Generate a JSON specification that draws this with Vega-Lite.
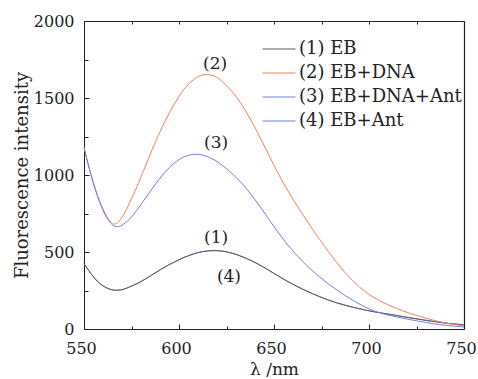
{
  "$schema": "https://vega.github.io/schema/vega-lite/v6.json",
  "width": 380,
  "height": 308,
  "autosize": "none",
  "padding": {"left": 84, "top": 21, "right": 14, "bottom": 50},
  "background": "white",
  "config": {
    "view": {"stroke": null},
    "font": "DejaVu Serif",
    "axis": {"labelFont": "DejaVu Serif", "titleFont": "DejaVu Serif", "labelColor": "#222", "titleColor": "#222", "tickColor": "#222", "domainColor": "#222", "domain": false, "grid": false, "titleFontWeight": "normal", "labelFontSize": 16, "titleFontSize": 18}
  },
  "datasets": {
    "curves": [
      {"series": "(1) EB", "wl": 550, "v": 425}, {"series": "(1) EB", "wl": 552, "v": 388}, {"series": "(1) EB", "wl": 554, "v": 354}, {"series": "(1) EB", "wl": 556, "v": 324}, {"series": "(1) EB", "wl": 558, "v": 299}, {"series": "(1) EB", "wl": 560, "v": 280}, {"series": "(1) EB", "wl": 563, "v": 261}, {"series": "(1) EB", "wl": 566, "v": 252}, {"series": "(1) EB", "wl": 569, "v": 253}, {"series": "(1) EB", "wl": 572, "v": 263}, {"series": "(1) EB", "wl": 576, "v": 284}, {"series": "(1) EB", "wl": 580, "v": 308}, {"series": "(1) EB", "wl": 585, "v": 345}, {"series": "(1) EB", "wl": 590, "v": 384}, {"series": "(1) EB", "wl": 595, "v": 419}, {"series": "(1) EB", "wl": 600, "v": 450}, {"series": "(1) EB", "wl": 605, "v": 476}, {"series": "(1) EB", "wl": 610, "v": 496}, {"series": "(1) EB", "wl": 616, "v": 508}, {"series": "(1) EB", "wl": 622, "v": 507}, {"series": "(1) EB", "wl": 628, "v": 492}, {"series": "(1) EB", "wl": 634, "v": 466}, {"series": "(1) EB", "wl": 640, "v": 432}, {"series": "(1) EB", "wl": 648, "v": 376}, {"series": "(1) EB", "wl": 656, "v": 317}, {"series": "(1) EB", "wl": 665, "v": 259}, {"series": "(1) EB", "wl": 674, "v": 210}, {"series": "(1) EB", "wl": 683, "v": 170}, {"series": "(1) EB", "wl": 692, "v": 140}, {"series": "(1) EB", "wl": 700, "v": 118}, {"series": "(1) EB", "wl": 706, "v": 105}, {"series": "(1) EB", "wl": 712, "v": 93}, {"series": "(1) EB", "wl": 718, "v": 80}, {"series": "(1) EB", "wl": 726, "v": 64}, {"series": "(1) EB", "wl": 735, "v": 47}, {"series": "(1) EB", "wl": 742, "v": 36}, {"series": "(1) EB", "wl": 750, "v": 27},
      {"series": "(4) EB+Ant", "wl": 550, "v": 425}, {"series": "(4) EB+Ant", "wl": 552, "v": 388}, {"series": "(4) EB+Ant", "wl": 554, "v": 354}, {"series": "(4) EB+Ant", "wl": 556, "v": 324}, {"series": "(4) EB+Ant", "wl": 558, "v": 299}, {"series": "(4) EB+Ant", "wl": 560, "v": 280}, {"series": "(4) EB+Ant", "wl": 563, "v": 261}, {"series": "(4) EB+Ant", "wl": 566, "v": 252}, {"series": "(4) EB+Ant", "wl": 569, "v": 253}, {"series": "(4) EB+Ant", "wl": 572, "v": 263}, {"series": "(4) EB+Ant", "wl": 576, "v": 284}, {"series": "(4) EB+Ant", "wl": 580, "v": 308}, {"series": "(4) EB+Ant", "wl": 585, "v": 345}, {"series": "(4) EB+Ant", "wl": 590, "v": 384}, {"series": "(4) EB+Ant", "wl": 595, "v": 419}, {"series": "(4) EB+Ant", "wl": 600, "v": 450}, {"series": "(4) EB+Ant", "wl": 605, "v": 476}, {"series": "(4) EB+Ant", "wl": 610, "v": 496}, {"series": "(4) EB+Ant", "wl": 616, "v": 508}, {"series": "(4) EB+Ant", "wl": 622, "v": 507}, {"series": "(4) EB+Ant", "wl": 628, "v": 492}, {"series": "(4) EB+Ant", "wl": 634, "v": 466}, {"series": "(4) EB+Ant", "wl": 640, "v": 432}, {"series": "(4) EB+Ant", "wl": 648, "v": 376}, {"series": "(4) EB+Ant", "wl": 656, "v": 317}, {"series": "(4) EB+Ant", "wl": 665, "v": 259}, {"series": "(4) EB+Ant", "wl": 674, "v": 210}, {"series": "(4) EB+Ant", "wl": 683, "v": 170}, {"series": "(4) EB+Ant", "wl": 692, "v": 140}, {"series": "(4) EB+Ant", "wl": 700, "v": 118}, {"series": "(4) EB+Ant", "wl": 706, "v": 105}, {"series": "(4) EB+Ant", "wl": 712, "v": 93}, {"series": "(4) EB+Ant", "wl": 718, "v": 80}, {"series": "(4) EB+Ant", "wl": 726, "v": 64}, {"series": "(4) EB+Ant", "wl": 735, "v": 47}, {"series": "(4) EB+Ant", "wl": 742, "v": 36}, {"series": "(4) EB+Ant", "wl": 750, "v": 27},
      {"series": "(2) EB+DNA", "wl": 550, "v": 1180}, {"series": "(2) EB+DNA", "wl": 552, "v": 1080}, {"series": "(2) EB+DNA", "wl": 554, "v": 990}, {"series": "(2) EB+DNA", "wl": 556, "v": 910}, {"series": "(2) EB+DNA", "wl": 558, "v": 840}, {"series": "(2) EB+DNA", "wl": 560, "v": 780}, {"series": "(2) EB+DNA", "wl": 562, "v": 730}, {"series": "(2) EB+DNA", "wl": 564, "v": 694}, {"series": "(2) EB+DNA", "wl": 566, "v": 681}, {"series": "(2) EB+DNA", "wl": 568, "v": 695}, {"series": "(2) EB+DNA", "wl": 571, "v": 745}, {"series": "(2) EB+DNA", "wl": 574, "v": 820}, {"series": "(2) EB+DNA", "wl": 577, "v": 900}, {"series": "(2) EB+DNA", "wl": 580, "v": 988}, {"series": "(2) EB+DNA", "wl": 583, "v": 1078}, {"series": "(2) EB+DNA", "wl": 587, "v": 1197}, {"series": "(2) EB+DNA", "wl": 591, "v": 1307}, {"series": "(2) EB+DNA", "wl": 595, "v": 1405}, {"series": "(2) EB+DNA", "wl": 600, "v": 1510}, {"series": "(2) EB+DNA", "wl": 605, "v": 1590}, {"series": "(2) EB+DNA", "wl": 610, "v": 1638}, {"series": "(2) EB+DNA", "wl": 614, "v": 1652}, {"series": "(2) EB+DNA", "wl": 618, "v": 1645}, {"series": "(2) EB+DNA", "wl": 622, "v": 1615}, {"series": "(2) EB+DNA", "wl": 630, "v": 1510}, {"series": "(2) EB+DNA", "wl": 639, "v": 1330}, {"series": "(2) EB+DNA", "wl": 648, "v": 1112}, {"series": "(2) EB+DNA", "wl": 656, "v": 925}, {"series": "(2) EB+DNA", "wl": 665, "v": 745}, {"series": "(2) EB+DNA", "wl": 674, "v": 582}, {"series": "(2) EB+DNA", "wl": 683, "v": 432}, {"series": "(2) EB+DNA", "wl": 690, "v": 332}, {"series": "(2) EB+DNA", "wl": 695, "v": 273}, {"series": "(2) EB+DNA", "wl": 700, "v": 225}, {"series": "(2) EB+DNA", "wl": 705, "v": 187}, {"series": "(2) EB+DNA", "wl": 711, "v": 152}, {"series": "(2) EB+DNA", "wl": 718, "v": 117}, {"series": "(2) EB+DNA", "wl": 726, "v": 85}, {"series": "(2) EB+DNA", "wl": 734, "v": 57}, {"series": "(2) EB+DNA", "wl": 742, "v": 35}, {"series": "(2) EB+DNA", "wl": 750, "v": 20},
      {"series": "(3) EB+DNA+Ant", "wl": 550, "v": 1180}, {"series": "(3) EB+DNA+Ant", "wl": 552, "v": 1078}, {"series": "(3) EB+DNA+Ant", "wl": 554, "v": 985}, {"series": "(3) EB+DNA+Ant", "wl": 556, "v": 903}, {"series": "(3) EB+DNA+Ant", "wl": 558, "v": 830}, {"series": "(3) EB+DNA+Ant", "wl": 560, "v": 770}, {"series": "(3) EB+DNA+Ant", "wl": 562, "v": 722}, {"series": "(3) EB+DNA+Ant", "wl": 564, "v": 688}, {"series": "(3) EB+DNA+Ant", "wl": 566, "v": 668}, {"series": "(3) EB+DNA+Ant", "wl": 568, "v": 665}, {"series": "(3) EB+DNA+Ant", "wl": 570, "v": 674}, {"series": "(3) EB+DNA+Ant", "wl": 574, "v": 714}, {"series": "(3) EB+DNA+Ant", "wl": 578, "v": 774}, {"series": "(3) EB+DNA+Ant", "wl": 582, "v": 844}, {"series": "(3) EB+DNA+Ant", "wl": 586, "v": 914}, {"series": "(3) EB+DNA+Ant", "wl": 590, "v": 979}, {"series": "(3) EB+DNA+Ant", "wl": 595, "v": 1049}, {"series": "(3) EB+DNA+Ant", "wl": 600, "v": 1099}, {"series": "(3) EB+DNA+Ant", "wl": 604, "v": 1124}, {"series": "(3) EB+DNA+Ant", "wl": 608, "v": 1134}, {"series": "(3) EB+DNA+Ant", "wl": 612, "v": 1131}, {"series": "(3) EB+DNA+Ant", "wl": 616, "v": 1114}, {"series": "(3) EB+DNA+Ant", "wl": 621, "v": 1080}, {"series": "(3) EB+DNA+Ant", "wl": 626, "v": 1030}, {"series": "(3) EB+DNA+Ant", "wl": 632, "v": 960}, {"series": "(3) EB+DNA+Ant", "wl": 640, "v": 840}, {"series": "(3) EB+DNA+Ant", "wl": 648, "v": 700}, {"series": "(3) EB+DNA+Ant", "wl": 656, "v": 565}, {"series": "(3) EB+DNA+Ant", "wl": 665, "v": 440}, {"series": "(3) EB+DNA+Ant", "wl": 674, "v": 338}, {"series": "(3) EB+DNA+Ant", "wl": 683, "v": 254}, {"series": "(3) EB+DNA+Ant", "wl": 692, "v": 183}, {"series": "(3) EB+DNA+Ant", "wl": 700, "v": 131}, {"series": "(3) EB+DNA+Ant", "wl": 706, "v": 104}, {"series": "(3) EB+DNA+Ant", "wl": 712, "v": 85}, {"series": "(3) EB+DNA+Ant", "wl": 718, "v": 70}, {"series": "(3) EB+DNA+Ant", "wl": 726, "v": 51}, {"series": "(3) EB+DNA+Ant", "wl": 735, "v": 32}, {"series": "(3) EB+DNA+Ant", "wl": 742, "v": 22}, {"series": "(3) EB+DNA+Ant", "wl": 750, "v": 13}
    ],
    "labels": [
      {"lab": "(2)", "wl": 619, "v": 1718},
      {"lab": "(3)", "wl": 619.5, "v": 1209},
      {"lab": "(1)", "wl": 619.5, "v": 592},
      {"lab": "(4)", "wl": 626.3, "v": 339}
    ]
  },
  "layer": [
    {
      "data": {"name": "curves"},
      "transform": [{"filter": "datum.series === '(4) EB+Ant'"}],
      "mark": {"type": "line", "strokeWidth": 1, "interpolate": "natural"},
      "encoding": {
        "x": {"field": "wl", "type": "quantitative", "scale": {"domain": [550, 750], "nice": false, "zero": false},
          "axis": {"orient": "bottom", "values": [550, 600, 650, 700, 750], "format": "d", "domain": true, "tickSize": -5, "labelPadding": 16, "labelOffset": -3, "title": "λ /nm", "titleFontSize": 17, "titlePadding": 5, "labelFlush": false}},
        "y": {"field": "v", "type": "quantitative", "scale": {"domain": [0, 2000], "nice": false},
          "axis": {"orient": "left", "values": [0, 500, 1000, 1500, 2000], "format": "d", "domain": true, "tickSize": -5, "labelPadding": 15, "title": "Fluorescence intensity", "titlePadding": 2}},
        "color": {"field": "series", "type": "nominal",
          "scale": {"domain": ["(1) EB", "(2) EB+DNA", "(3) EB+DNA+Ant", "(4) EB+Ant"], "range": ["#5f5959", "#f4805f", "#7080e0", "#7080e0"]},
          "legend": {"orient": "none", "legendX": 186, "legendY": 19, "title": null, "symbolType": "M-3,0H3", "symbolSize": 121, "symbolStrokeWidth": 1, "labelFont": "DejaVu Serif", "labelFontSize": 18, "labelColor": "#222", "labelOffset": 11, "rowPadding": 6, "padding": 0, "labelLimit": 300}}
      }
    },
    {
      "data": {"name": "curves"},
      "transform": [{"filter": "datum.series !== '(4) EB+Ant'"}],
      "mark": {"type": "line", "strokeWidth": 1, "interpolate": "natural"},
      "encoding": {
        "x": {"field": "wl", "type": "quantitative", "axis": {"orient": "bottom", "values": [575, 625, 675, 725], "tickSize": -3, "labels": false, "title": null}},
        "y": {"field": "v", "type": "quantitative", "axis": {"orient": "left", "values": [250, 750, 1250, 1750], "tickSize": -4, "labels": false, "title": null}},
        "color": {"field": "series", "type": "nominal", "legend": {"orient": "none", "legendX": 186, "legendY": 19, "title": null, "symbolType": "M-3,0H3", "symbolSize": 121, "symbolStrokeWidth": 1, "labelFont": "DejaVu Serif", "labelFontSize": 18, "labelColor": "#222", "labelOffset": 11, "rowPadding": 6, "padding": 0, "labelLimit": 300}}
      }
    },
    {
      "data": {"name": "labels"},
      "mark": {"type": "text", "font": "DejaVu Serif", "fontSize": 17, "color": "#222", "align": "center", "baseline": "middle"},
      "encoding": {
        "x": {"field": "wl", "type": "quantitative", "axis": {"orient": "top", "values": [550, 575, 600, 625, 650, 675, 700, 725, 750], "domain": true, "domainWidth": 1.2, "tickSize": -3, "labels": false, "title": null}},
        "y": {"field": "v", "type": "quantitative", "axis": {"orient": "right", "values": [0, 2000], "domain": true, "domainWidth": 1.2, "ticks": false, "labels": false, "title": null}},
        "text": {"field": "lab"}
      }
    }
  ],
  "resolve": {"axis": {"x": "independent", "y": "independent"}}
}
